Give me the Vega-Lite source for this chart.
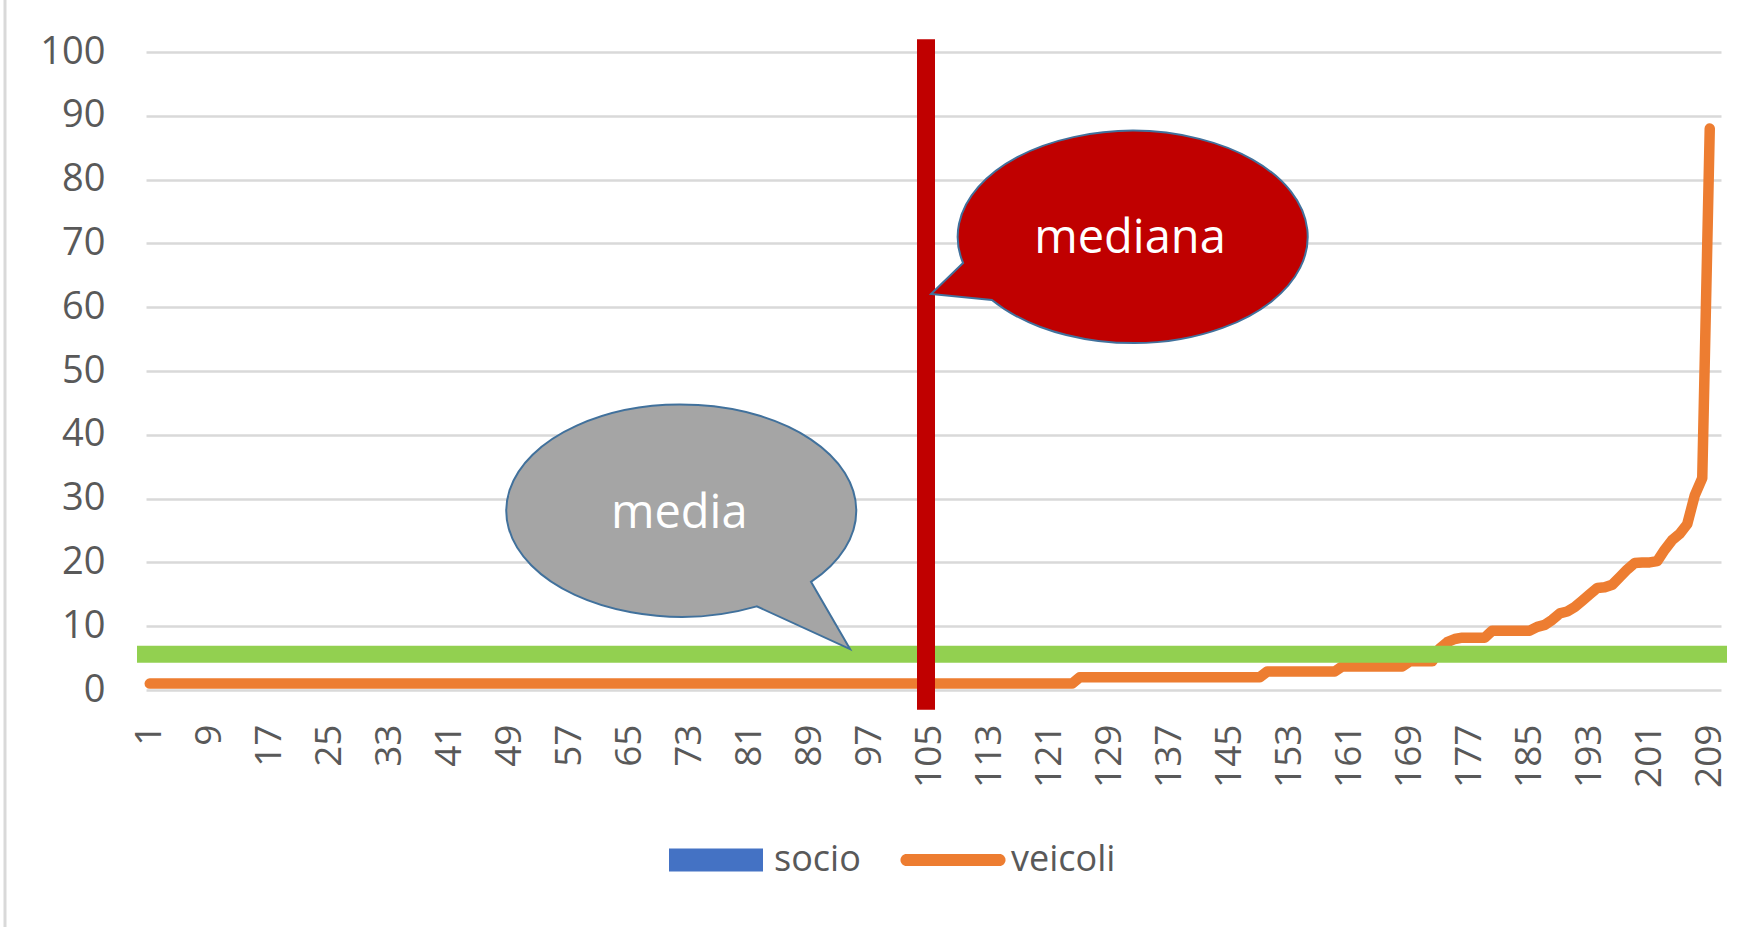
{
  "$schema": "https://vega.github.io/schema/vega-lite/v6.json",
  "width": 1575,
  "height": 638,
  "autosize": "none",
  "padding": {"left": 146, "top": 52, "right": 31, "bottom": 237},
  "background": "white",
  "datasets": {
    "veicoli": [
      {"n":1,"veicoli":1},{"n":2,"veicoli":1},{"n":3,"veicoli":1},{"n":4,"veicoli":1},{"n":5,"veicoli":1},{"n":6,"veicoli":1},{"n":7,"veicoli":1},{"n":8,"veicoli":1},{"n":9,"veicoli":1},{"n":10,"veicoli":1},
      {"n":11,"veicoli":1},{"n":12,"veicoli":1},{"n":13,"veicoli":1},{"n":14,"veicoli":1},{"n":15,"veicoli":1},{"n":16,"veicoli":1},{"n":17,"veicoli":1},{"n":18,"veicoli":1},{"n":19,"veicoli":1},{"n":20,"veicoli":1},
      {"n":21,"veicoli":1},{"n":22,"veicoli":1},{"n":23,"veicoli":1},{"n":24,"veicoli":1},{"n":25,"veicoli":1},{"n":26,"veicoli":1},{"n":27,"veicoli":1},{"n":28,"veicoli":1},{"n":29,"veicoli":1},{"n":30,"veicoli":1},
      {"n":31,"veicoli":1},{"n":32,"veicoli":1},{"n":33,"veicoli":1},{"n":34,"veicoli":1},{"n":35,"veicoli":1},{"n":36,"veicoli":1},{"n":37,"veicoli":1},{"n":38,"veicoli":1},{"n":39,"veicoli":1},{"n":40,"veicoli":1},
      {"n":41,"veicoli":1},{"n":42,"veicoli":1},{"n":43,"veicoli":1},{"n":44,"veicoli":1},{"n":45,"veicoli":1},{"n":46,"veicoli":1},{"n":47,"veicoli":1},{"n":48,"veicoli":1},{"n":49,"veicoli":1},{"n":50,"veicoli":1},
      {"n":51,"veicoli":1},{"n":52,"veicoli":1},{"n":53,"veicoli":1},{"n":54,"veicoli":1},{"n":55,"veicoli":1},{"n":56,"veicoli":1},{"n":57,"veicoli":1},{"n":58,"veicoli":1},{"n":59,"veicoli":1},{"n":60,"veicoli":1},
      {"n":61,"veicoli":1},{"n":62,"veicoli":1},{"n":63,"veicoli":1},{"n":64,"veicoli":1},{"n":65,"veicoli":1},{"n":66,"veicoli":1},{"n":67,"veicoli":1},{"n":68,"veicoli":1},{"n":69,"veicoli":1},{"n":70,"veicoli":1},
      {"n":71,"veicoli":1},{"n":72,"veicoli":1},{"n":73,"veicoli":1},{"n":74,"veicoli":1},{"n":75,"veicoli":1},{"n":76,"veicoli":1},{"n":77,"veicoli":1},{"n":78,"veicoli":1},{"n":79,"veicoli":1},{"n":80,"veicoli":1},
      {"n":81,"veicoli":1},{"n":82,"veicoli":1},{"n":83,"veicoli":1},{"n":84,"veicoli":1},{"n":85,"veicoli":1},{"n":86,"veicoli":1},{"n":87,"veicoli":1},{"n":88,"veicoli":1},{"n":89,"veicoli":1},{"n":90,"veicoli":1},
      {"n":91,"veicoli":1},{"n":92,"veicoli":1},{"n":93,"veicoli":1},{"n":94,"veicoli":1},{"n":95,"veicoli":1},{"n":96,"veicoli":1},{"n":97,"veicoli":1},{"n":98,"veicoli":1},{"n":99,"veicoli":1},{"n":100,"veicoli":1},
      {"n":101,"veicoli":1},{"n":102,"veicoli":1},{"n":103,"veicoli":1},{"n":104,"veicoli":1},{"n":105,"veicoli":1},{"n":106,"veicoli":1},{"n":107,"veicoli":1},{"n":108,"veicoli":1},{"n":109,"veicoli":1},{"n":110,"veicoli":1},
      {"n":111,"veicoli":1},{"n":112,"veicoli":1},{"n":113,"veicoli":1},{"n":114,"veicoli":1},{"n":115,"veicoli":1},{"n":116,"veicoli":1},{"n":117,"veicoli":1},{"n":118,"veicoli":1},{"n":119,"veicoli":1},{"n":120,"veicoli":1},
      {"n":121,"veicoli":1},{"n":122,"veicoli":1},{"n":123,"veicoli":1},{"n":124,"veicoli":1},{"n":125,"veicoli":2},{"n":126,"veicoli":2},{"n":127,"veicoli":2},{"n":128,"veicoli":2},{"n":129,"veicoli":2},{"n":130,"veicoli":2},
      {"n":131,"veicoli":2},{"n":132,"veicoli":2},{"n":133,"veicoli":2},{"n":134,"veicoli":2},{"n":135,"veicoli":2},{"n":136,"veicoli":2},{"n":137,"veicoli":2},{"n":138,"veicoli":2},{"n":139,"veicoli":2},{"n":140,"veicoli":2},
      {"n":141,"veicoli":2},{"n":142,"veicoli":2},{"n":143,"veicoli":2},{"n":144,"veicoli":2},{"n":145,"veicoli":2},{"n":146,"veicoli":2},{"n":147,"veicoli":2},{"n":148,"veicoli":2},{"n":149,"veicoli":2},{"n":150,"veicoli":2.9},
      {"n":151,"veicoli":2.9},{"n":152,"veicoli":2.9},{"n":153,"veicoli":2.9},{"n":154,"veicoli":2.9},{"n":155,"veicoli":2.9},{"n":156,"veicoli":2.9},{"n":157,"veicoli":2.9},{"n":158,"veicoli":2.9},{"n":159,"veicoli":2.9},{"n":160,"veicoli":3.7},
      {"n":161,"veicoli":3.7},{"n":162,"veicoli":3.7},{"n":163,"veicoli":3.7},{"n":164,"veicoli":3.7},{"n":165,"veicoli":3.7},{"n":166,"veicoli":3.7},{"n":167,"veicoli":3.7},{"n":168,"veicoli":3.7},{"n":169,"veicoli":4.5},{"n":170,"veicoli":4.5},
      {"n":171,"veicoli":4.5},{"n":172,"veicoli":4.5},{"n":173,"veicoli":6.5},{"n":174,"veicoli":7.5},{"n":175,"veicoli":8},{"n":176,"veicoli":8.2},{"n":177,"veicoli":8.2},{"n":178,"veicoli":8.2},{"n":179,"veicoli":8.2},{"n":180,"veicoli":9.3},
      {"n":181,"veicoli":9.3},{"n":182,"veicoli":9.3},{"n":183,"veicoli":9.3},{"n":184,"veicoli":9.3},{"n":185,"veicoli":9.3},{"n":186,"veicoli":9.9},{"n":187,"veicoli":10.2},{"n":188,"veicoli":11},{"n":189,"veicoli":12},{"n":190,"veicoli":12.3},
      {"n":191,"veicoli":13},{"n":192,"veicoli":14},{"n":193,"veicoli":15},{"n":194,"veicoli":16},{"n":195,"veicoli":16.1},{"n":196,"veicoli":16.5},{"n":197,"veicoli":17.7},{"n":198,"veicoli":18.9},{"n":199,"veicoli":19.9},{"n":200,"veicoli":20},
      {"n":201,"veicoli":20},{"n":202,"veicoli":20.2},{"n":203,"veicoli":22},{"n":204,"veicoli":23.5},{"n":205,"veicoli":24.5},{"n":206,"veicoli":26},{"n":207,"veicoli":30.5},{"n":208,"veicoli":33.2},{"n":209,"veicoli":88}
    ]
  },
  "data": {"name": "veicoli"},
  "layer": [
    {
      "data": {"values": [{"elemento": "bordo"}]},
      "mark": {"type": "rule", "color": "#D9D9D9", "strokeWidth": 3},
      "encoding": {
        "x": {"datum": -18.3, "type": "quantitative"},
        "y": {"datum": 108.2, "type": "quantitative"},
        "y2": {"datum": -37.2}
      }
    },
    {
      "mark": {"type": "line", "strokeWidth": 10.5, "strokeCap": "round", "strokeJoin": "round"},
      "encoding": {
        "x": {
          "field": "n",
          "type": "quantitative",
          "scale": {"domain": [0.5, 210.5], "nice": false, "zero": false},
          "axis": {
            "values": [1, 9, 17, 25, 33, 41, 49, 57, 65, 73, 81, 89, 97, 105, 113, 121, 129, 137, 145, 153, 161, 169, 177, 185, 193, 201, 209],
            "title": null,
            "grid": false,
            "domain": false,
            "ticks": false,
            "tickSize": 0,
            "labelAngle": -90,
            "labelPadding": 34,
            "labelFont": "Open Sans",
            "labelFontSize": 37,
            "labelColor": "#595959",
            "labelOverlap": false,
            "labelFlush": false,
            "labelBound": false
          }
        },
        "y": {
          "field": "veicoli",
          "type": "quantitative",
          "scale": {"domain": [0, 100], "nice": false},
          "axis": {
            "values": [0, 10, 20, 30, 40, 50, 60, 70, 80, 90, 100],
            "title": null,
            "grid": true,
            "gridColor": "#D9D9D9",
            "gridWidth": 2.5,
            "domain": false,
            "ticks": false,
            "tickSize": 0,
            "labelPadding": 41,
            "labelFont": "Open Sans",
            "labelFontSize": 38,
            "labelColor": "#595959"
          }
        },
        "color": {
          "datum": "veicoli",
          "scale": {"domain": ["socio", "veicoli"], "range": ["#4472C4", "#ED7D31"]},
          "legend": {
            "orient": "none",
            "legendX": 523,
            "legendY": 761,
            "direction": "horizontal",
            "title": null,
            "padding": 0,
            "symbolSize": 8836,
            "labelOffset": 11,
            "columnPadding": 39,
            "labelFont": "Open Sans",
            "labelFontSize": 36,
            "labelColor": "#595959",
            "encode": {
              "symbols": {
                "update": {
                  "shape": {"signal": "datum.value === 'socio' ? 'M-1,-0.245H1V0.245H-1Z' : 'M-0.99,-0.128H0.99A0.128,0.128 0 0 1 0.99,0.128H-0.99A0.128,0.128 0 0 1 -0.99,-0.128Z'"},
                  "fill": {"signal": "datum.value === 'socio' ? '#4472C4' : '#ED7D31'"},
                  "fillOpacity": {"value": 1},
                  "strokeWidth": {"value": 0},
                  "size": {"value": 8836}
                }
              }
            }
          }
        }
      }
    },
    {
      "data": {"values": [{"statistica": "media"}]},
      "mark": {"type": "rule", "color": "#92D050", "strokeWidth": 17},
      "encoding": {
        "x": {"datum": -0.7, "type": "quantitative"},
        "x2": {"datum": 211.3},
        "y": {"datum": 5.6, "type": "quantitative"}
      }
    },
    {
      "data": {"values": [{"statistica": "mediana"}]},
      "mark": {"type": "rule", "color": "#C00000", "strokeWidth": 18},
      "encoding": {
        "x": {"datum": 104.5, "type": "quantitative"},
        "y": {"datum": 102, "type": "quantitative"},
        "y2": {"datum": -3.1}
      }
    },
    {
      "data": {"values": [{"statistica": "mediana"}]},
      "mark": {
        "type": "point",
        "filled": true,
        "fill": "#C00000",
        "stroke": "#41719C",
        "strokeWidth": 2,
        "opacity": 1,
        "size": 122500,
        "shape": "M-0.971,0.143A1,0.606 0 1 1 -0.806,0.354L-1.154,0.32Z"
      },
      "encoding": {
        "x": {"datum": 132.1, "type": "quantitative"},
        "y": {"datum": 70.85, "type": "quantitative"}
      }
    },
    {
      "data": {"values": [{"statistica": "media"}]},
      "mark": {
        "type": "point",
        "filled": true,
        "fill": "#A5A5A5",
        "stroke": "#41719C",
        "strokeWidth": 2,
        "opacity": 1,
        "size": 122500,
        "shape": "M0.74,0.405A1,0.606 0 1 0 0.43,0.545L0.963,0.789Z"
      },
      "encoding": {
        "x": {"datum": 71.9, "type": "quantitative"},
        "y": {"datum": 28.06, "type": "quantitative"}
      }
    },
    {
      "data": {"values": [{"statistica": "mediana"}]},
      "mark": {"type": "text", "color": "white", "font": "Open Sans", "fontSize": 47, "align": "center", "baseline": "alphabetic"},
      "encoding": {
        "x": {"datum": 131.7, "type": "quantitative"},
        "y": {"datum": 68.5, "type": "quantitative"},
        "text": {"field": "statistica"}
      }
    },
    {
      "data": {"values": [{"statistica": "media"}]},
      "mark": {"type": "text", "color": "white", "font": "Open Sans", "fontSize": 47, "align": "center", "baseline": "alphabetic"},
      "encoding": {
        "x": {"datum": 71.6, "type": "quantitative"},
        "y": {"datum": 25.4, "type": "quantitative"},
        "text": {"field": "statistica"}
      }
    }
  ],
  "config": {
    "view": {"stroke": null},
    "font": "Open Sans"
  }
}
